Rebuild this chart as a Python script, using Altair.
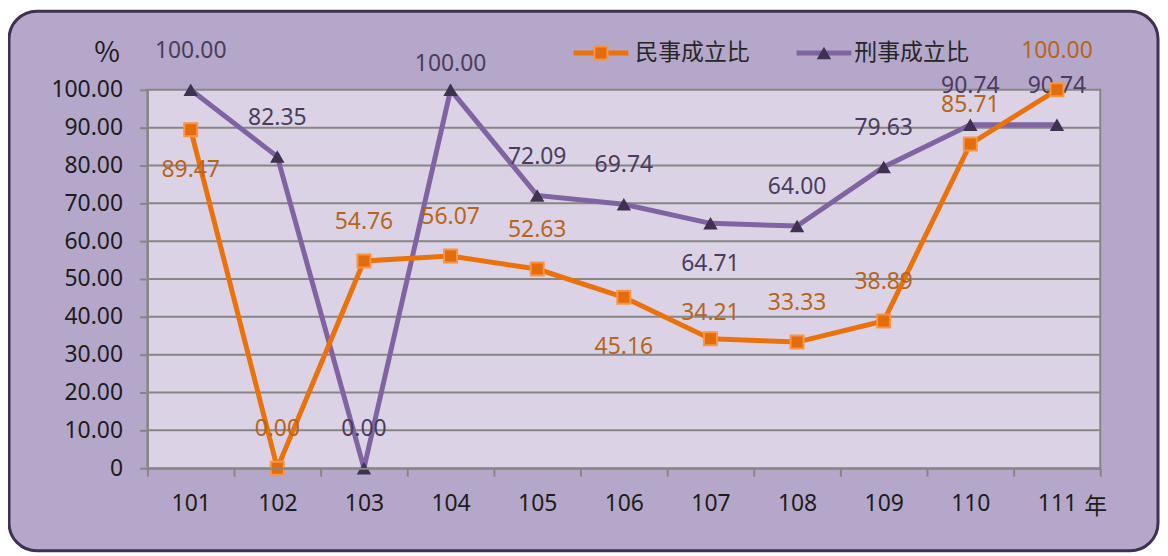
import altair as alt
import pandas as pd

# ---- data ----
years = ["101", "102", "103", "104", "105", "106", "107", "108", "109", "110", "111"]
civil = [89.47, 0.00, 54.76, 56.07, 52.63, 45.16, 34.21, 33.33, 38.89, 85.71, 100.00]
criminal = [100.00, 82.35, 0.00, 100.00, 72.09, 69.74, 64.71, 64.00, 79.63, 90.74, 90.74]
civil_label_pos = ["below", "above", "above", "above", "above", "below_far",
                   "above_near", "above", "above", "above", "above"]
criminal_label_pos = ["above", "above", "above", "above_near", "above", "above",
                      "below", "above", "above", "above", "above"]
series_names = ["民事成立比", "刑事成立比"]
y_ticks = [0, 10, 20, 30, 40, 50, 60, 70, 80, 90, 100]
grid_values = [10, 20, 30, 40, 50, 60, 70, 80, 90]

# ---- styles ----
W, H = 957, 380
NUM_FONT = "Noto Sans"
CJK_FONT = "Noto Sans CJK TC"
FS = 23
GRID = "#868686"
ORANGE = "#ea720c"
PURPLE = "#8064a2"
TEXT = "#1c1c1c"
label_offsets = {"above": -39, "above_near": -26, "below": 41, "below_far": 50}

civil_df = pd.DataFrame({"year": years, "value": civil, "pos": civil_label_pos})
crim_df = pd.DataFrame({"year": years, "value": criminal, "pos": criminal_label_pos})
grid_df = pd.DataFrame({"value": grid_values})
one = pd.DataFrame({"a": [0]})

xscale = alt.Scale(type="band", domain=years, paddingInner=0, paddingOuter=0)
yscale = alt.Scale(domain=[0, 100], nice=False, zero=True)

x_axis = alt.Axis(
    title="年", titleX=952, titleY=39, titleAngle=0, titleAlign="center",
    titleBaseline="middle", titleFont=CJK_FONT, titleFontSize=FS,
    titleFontWeight="normal", titleColor=TEXT,
    labelAngle=0, labelFont=NUM_FONT, labelFontSize=FS, labelColor=TEXT,
    labelPadding=16, tickBand="extent", tickSize=8, tickColor=GRID, tickWidth=2,
    domainColor=GRID, domainWidth=2, grid=False, zindex=1,
)
y_axis = alt.Axis(
    values=y_ticks,
    labelExpr="datum.value == 0 ? '0' : format(datum.value, '.2f')",
    title="%", titleAngle=0, titleX=-41, titleY=-36, titleAlign="center",
    titleBaseline="middle", titleFont=CJK_FONT, titleFontSize=28,
    titleFontWeight="normal", titleColor=TEXT,
    labelFont=NUM_FONT, labelFontSize=FS, labelColor=TEXT, labelPadding=17,
    tickSize=8, tickColor=GRID, tickWidth=2, domainColor=GRID, domainWidth=2,
    grid=False, zindex=1,
)

XE = alt.X("year:N", scale=xscale, axis=x_axis, sort=years)
YE = alt.Y("value:Q", scale=yscale, axis=y_axis)

# background rounded panel
bg = alt.Chart(one).mark_rect(
    cornerRadius=28, fill="#b5a7ca", stroke="#3f3151", strokeWidth=3
).encode(x=alt.value(-139), x2=alt.value(1015), y=alt.value(-79), y2=alt.value(463))

# plot area
plot_bg = alt.Chart(one).mark_rect(
    fill="#dbd3e5", stroke=GRID, strokeWidth=2
).encode(x=alt.value(0), x2=alt.value(W), y=alt.value(0), y2=alt.value(H))

grid = alt.Chart(grid_df).mark_rule(color=GRID, strokeWidth=2).encode(
    y=YE, x=alt.value(0), x2=alt.value(W)
)


def series_layers(df, color, point_mark, label_color):
    base = alt.Chart(df)
    line = base.mark_line(color=color, strokeWidth=5).encode(x=XE, y=YE)
    pts = base.mark_point(**point_mark).encode(x=XE, y=YE)
    texts = []
    for pos, off in label_offsets.items():
        texts.append(
            base.transform_filter(alt.datum.pos == pos)
            .mark_text(font=NUM_FONT, fontSize=FS, color=label_color, dy=off,
                       align="center", baseline="middle")
            .encode(x=XE, y=YE, text=alt.Text("value:Q", format=".2f"))
        )
    return [line, pts] + texts


sq = dict(shape="square", filled=True, size=170, fill="#e46c0a",
          stroke="#f79646", strokeWidth=2, opacity=1)
tri = dict(shape="triangle-up", filled=True, size=210, fill="#3f3151",
           strokeWidth=0, opacity=1)

crim_layers = series_layers(crim_df, PURPLE, tri, "#4a3c5c")
civil_layers = series_layers(civil_df, ORANGE, sq, "#b5651d")

# legend (manual)
legend = []
leg_items = [(series_names[0], ORANGE, sq, 428, 483, 490),
             (series_names[1], PURPLE, tri, 652, 707, 710)]
for name, col, mk, x1, x2, tx in leg_items:
    ldf = pd.DataFrame({"name": [name]})
    legend.append(alt.Chart(ldf).mark_rule(color=col, strokeWidth=5).encode(
        x=alt.value(x1), x2=alt.value(x2), y=alt.value(-37)))
    legend.append(alt.Chart(ldf).mark_point(**mk).encode(
        x=alt.value((x1 + x2) / 2), y=alt.value(-37)))
    legend.append(alt.Chart(ldf).mark_text(
        font=CJK_FONT, fontSize=FS, color="#262626", align="left", baseline="middle"
    ).encode(x=alt.value(tx), y=alt.value(-37), text="name:N"))

chart = alt.layer(
    bg, plot_bg, grid, *crim_layers, *civil_layers, *legend
).properties(
    width=W, height=H,
    autosize=alt.AutoSizeParams(type="none"),
    padding={"left": 140, "top": 81, "right": 60, "bottom": 84},
    background="white",
).configure_view(stroke=None)

chart.save("out.html", embed_options={"renderer": "svg", "actions": False})
